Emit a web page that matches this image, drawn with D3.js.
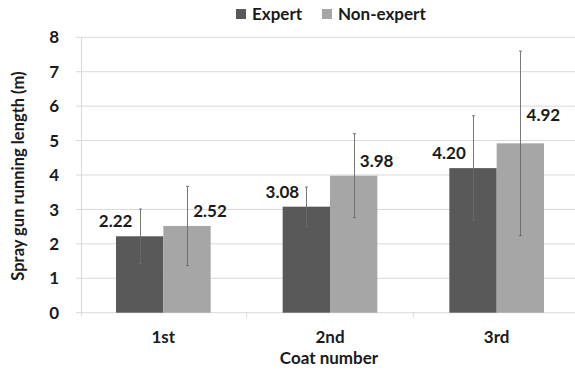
<!DOCTYPE html>
<html><head><meta charset="utf-8">
<script src="https://cdn.jsdelivr.net/npm/d3@7"></script>
<style>body{margin:0;background:#fff}svg{display:block}text{font-family:Lato,"Open Sans",sans-serif;font-weight:bold;fill:#1a1a1a}</style>
</head><body>
<script>
const categories = ["1st","2nd","3rd"];
const seriesNames = ["Expert","Non-expert"];
const expertValues = [2.22,3.08,4.20];
const nonExpertValues = [2.52,3.98,4.92];
const expertErrors = [0.79,0.57,1.52];
const nonExpertErrors = [1.15,1.22,2.68];
const yTicks = [0,1,2,3,4,5,6,7,8];
const colors = ["#595959","#a6a6a6"];

const W=575,H=372;
const svg=d3.select("body").append("svg").attr("width",W).attr("height",H);
const x=d3.scaleBand().domain(categories).range([80,580]).paddingInner(0.432).paddingOuter(0.216);
const xs=d3.scaleBand().domain(seriesNames).range([0,x.bandwidth()]);
const y=d3.scaleLinear().domain([0,8]).range([312.7,37.3]);

// gridlines
svg.append("g").selectAll("line").data(yTicks).join("line")
 .attr("x1",76).attr("x2",580).attr("y1",d=>y(d)).attr("y2",d=>y(d))
 .attr("stroke","#d9d9d9").attr("stroke-width",1);
// y axis line
svg.append("line").attr("x1",81.5).attr("x2",81.5).attr("y1",y(8)).attr("y2",y(0)+4).attr("stroke","#d9d9d9");
// category ticks
const step=x.step();
svg.append("g").selectAll("line").data([1,2]).join("line")
 .attr("x1",d=>80+d*step).attr("x2",d=>80+d*step).attr("y1",y(0)).attr("y2",y(0)+5).attr("stroke","#d9d9d9");

// y tick labels
svg.append("g").selectAll("text").data(yTicks).join("text")
 .attr("x",59).attr("y",d=>y(d)).attr("dy","0.36em").attr("text-anchor","end")
 .style("font-size","17px").text(d=>d);

const data=categories.map((c,i)=>[
 {c,s:seriesNames[0],v:expertValues[i],e:expertErrors[i],k:0},
 {c,s:seriesNames[1],v:nonExpertValues[i],e:nonExpertErrors[i],k:1}]).flat();

const g=svg.append("g");
g.selectAll("rect").data(data).join("rect")
 .attr("x",d=>x(d.c)+xs(d.s)).attr("width",xs.bandwidth())
 .attr("y",d=>y(d.v)).attr("height",d=>y(0)-y(d.v))
 .attr("fill",d=>colors[d.k]);

// error bars
const cx=d=>x(d.c)+xs(d.s)+xs.bandwidth()/2;
g.selectAll("line.err").data(data).join("line").attr("class","err")
 .attr("x1",d=>Math.round(cx(d))+0.5).attr("x2",d=>Math.round(cx(d))+0.5)
 .attr("y1",d=>y(d.v+d.e)).attr("y2",d=>y(d.v-d.e)).attr("stroke","#6a6a6a").attr("stroke-width",0.9);
["top","bot"].forEach(p=>{
 g.selectAll("line.cap"+p).data(data).join("line").attr("class","cap"+p)
  .attr("x1",d=>Math.round(cx(d))-1).attr("x2",d=>Math.round(cx(d))+2)
  .attr("y1",d=>y(p==="top"?d.v+d.e:d.v-d.e)).attr("y2",d=>y(p==="top"?d.v+d.e:d.v-d.e))
  .attr("stroke","#6a6a6a").attr("stroke-width",0.9);
});

// value labels
g.selectAll("text.val").data(data).join("text").attr("class","val")
 .attr("x",d=>cx(d)+(d.k===0?-24:23))
 .attr("y",d=>y(d.v)-(d.k===1&&d.v+d.e>7?22:9))
 .attr("text-anchor","middle").style("font-size","17px")
 .text(d=>d.v.toFixed(2));

// category labels
svg.append("g").selectAll("text").data(categories).join("text")
 .attr("x",d=>x(d)+x.bandwidth()/2).attr("y",343).attr("text-anchor","middle")
 .style("font-size","17px").text(d=>d);

// axis titles
svg.append("text").attr("x",329).attr("y",364).attr("text-anchor","middle").style("font-size","17px").text("Coat number");
svg.append("text").attr("transform","translate(24,176) rotate(-90)").attr("text-anchor","middle").style("font-size","16.5px").text("Spray gun running length (m)");

// legend
const leg=svg.append("g");
const legX=[236,322];
seriesNames.forEach((s,i)=>{
 leg.append("rect").attr("x",legX[i]).attr("y",9).attr("width",10).attr("height",10).attr("fill",colors[i]);
 leg.append("text").attr("x",legX[i]+16).attr("y",19.5).style("font-size","17px").text(s);
});
</script>
</body></html>
